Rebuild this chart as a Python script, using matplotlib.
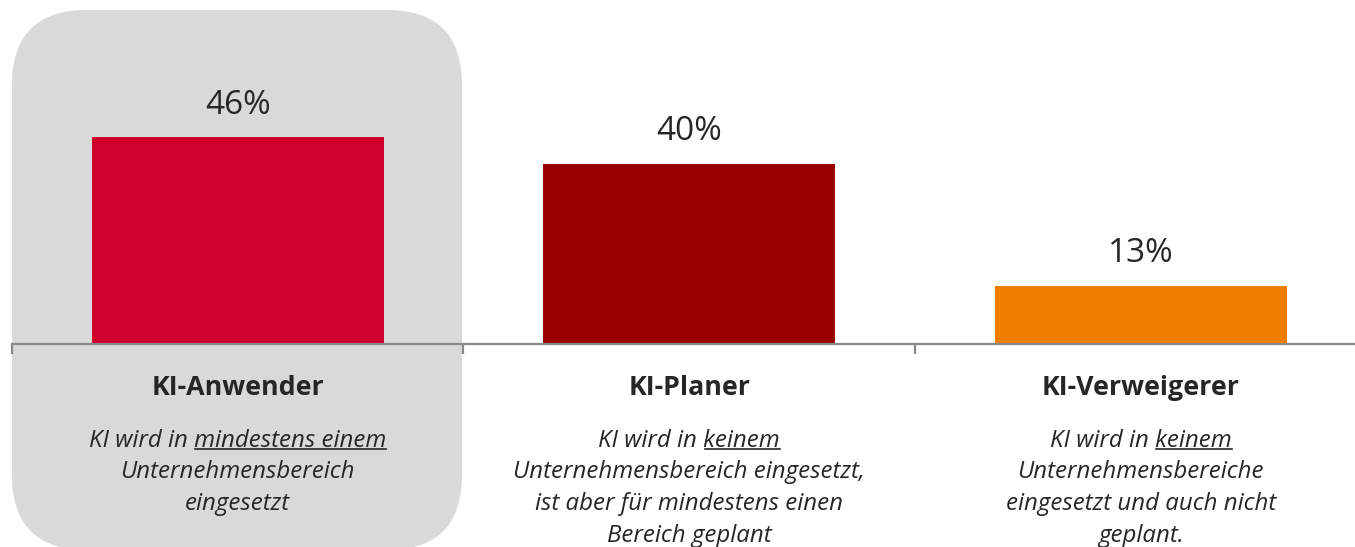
import matplotlib
matplotlib.use("Agg")
import matplotlib.pyplot as plt
from matplotlib.patches import FancyBboxPatch
from matplotlib import transforms
from matplotlib.lines import Line2D

# ---- data ----
categories = ["KI-Anwender", "KI-Planer", "KI-Verweigerer"]
values = [46, 40, 13]
value_labels = ["46%", "40%", "13%"]
colors = ["#CE002C", "#990000", "#F07D00"]
descriptions = [
    ["KI wird in |mindestens einem", "Unternehmensbereich", "eingesetzt"],
    ["KI wird in |keinem", "Unternehmensbereich eingesetzt,", "ist aber für mindestens einen", "Bereich geplant"],
    ["KI wird in |keinem", "Unternehmensbereiche", "eingesetzt und auch nicht", "geplant."],
]

W, H = 1355, 547
DPI = 100
FONT = "Open Sans"
TXT = "#262626"

fig = plt.figure(figsize=(W / DPI, H / DPI), dpi=DPI)

# background axes in pixel coordinates (for the highlight box)
bg = fig.add_axes([0, 0, 1, 1], zorder=0)
bg.set_xlim(0, W)
bg.set_ylim(H, 0)
bg.axis("off")
box = FancyBboxPatch((12, 10), 450, 540, boxstyle="round,pad=0,rounding_size=75",
                     facecolor="#D9D9D9", edgecolor="none")
bg.add_patch(box)

# main axes
spacing = 451.5
base_px = 344
px_per_pct = 4.5
ax = fig.add_axes([12 / W, (H - base_px) / H, (W - 12) / W, base_px / H], zorder=1)
ax.patch.set_alpha(0)
x = list(range(len(categories)))
ax.bar(x, values, width=292 / spacing, color=colors, zorder=2)
for s in ["top", "right", "left"]:
    ax.spines[s].set_visible(False)
ax.spines["bottom"].set_color("#898989")
ax.spines["bottom"].set_linewidth(1.6)
ax.set_yticks([])
ax.set_xticks([-0.5, 0.5, 1.5])
ax.set_xticklabels([])
ax.tick_params(axis="x", length=7, width=1.6, color="#898989", direction="out")
ax.set_xlim(-0.5, -0.5 + (W - 12) / spacing)
ax.set_ylim(0, base_px / px_per_pct)

for xi, v, lab in zip(x, values, value_labels):
    ax.annotate(lab, (xi, v), xytext=(0, 32 * 0.72), textcoords="offset points",
                ha="center", va="center", fontsize=24, family=FONT, color=TXT)

# category text below axis: x in data, y in pixels
tr = transforms.blended_transform_factory(ax.transData, bg.transData)
under = []
DS = 17.3
for xi, cat, desc in zip(x, categories, descriptions):
    ax.text(xi, 395, cat, transform=tr, ha="center", va="baseline",
            fontsize=19.3, fontweight="bold", family=FONT, color=TXT)
    for i, line in enumerate(desc):
        y = 446.7 + 31.8 * i
        if "|" in line:
            pre, u = line.split("|")
            t = ax.text(xi, y, pre + u, transform=tr, ha="center", va="baseline",
                        fontsize=DS, style="italic", family=FONT, color=TXT)
            tu = ax.text(0, 0, u, transform=tr, fontsize=DS, style="italic",
                         family=FONT, color=TXT, alpha=0)
            under.append((t, tu, y))
        else:
            ax.text(xi, y, line, transform=tr, ha="center", va="baseline",
                    fontsize=DS, style="italic", family=FONT, color=TXT)

fig.canvas.draw()
r = fig.canvas.get_renderer()
inv = bg.transData.inverted()
for t, tu, y in under:
    e = t.get_window_extent(r)
    eu = tu.get_window_extent(r)
    x1 = inv.transform((e.x1, 0))[0]
    x0 = inv.transform((e.x1 - eu.width, 0))[0]
    bg.add_line(Line2D([x0 + 1, x1], [y + 2.5, y + 2.5], color=TXT, lw=1.2, zorder=3))
    tu.remove()

fig.savefig("out.png", dpi=DPI)
